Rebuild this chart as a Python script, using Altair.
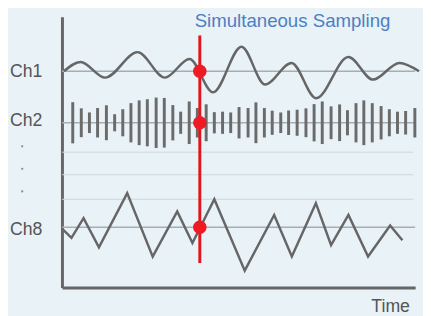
import altair as alt
import pandas as pd

# ---- data (time units along x, signal units along y; 0 = time axis) ----
channels = ["Ch1", "Ch2", "Ch8"]
baselines = [220.5, 168, 61.5]          # signal baseline of each channel
label_levels = [220, 170, 59]
grid_levels = [138, 115, 90]            # empty channel rows (Ch3..Ch7)
ellipsis_levels = [144, 121, 98]

# Ch1: smooth wave (extrema)
ch1_t = [2, 19, 44, 77, 105, 130, 154, 183, 207, 234, 259, 292, 317, 344, 364]
ch1_v = [0, 9.5, -6.5, 19.5, -6.5, 12.5, -21.5, 25, -13.5, 8.5, -27.5, 14.5, -8.5, 8.5, 0]

# Ch2: pulse train (half heights)
ch2_t = [11, 19.7, 28, 36.3, 45.3, 53.7, 62, 70.3, 78.7, 87, 96, 104.3, 113, 121,
         129.7, 138, 147, 155.3, 163.7, 172, 180.5, 189.7, 197.7, 206.3, 214.3, 223,
         231, 239.7, 248.7, 257, 265.3, 274.3, 283, 291, 299.7, 307.7, 316.3, 325.3,
         333.7, 342, 350.3, 359.7]
ch2_h = [21, 14.7, 10.5, 15, 17.8, 8.7, 13.8, 20, 22.8, 24, 25.7, 25.3, 18, 11.3,
         21.7, 15, 18.8, 10.8, 11.3, 10.5, 16, 15, 20.8, 15, 12.3, 10.5,
         12.5, 13.3, 14.7, 19, 21.7, 16.7, 18.7, 12.8, 20, 22.8, 20, 17,
         13.8, 11.3, 12, 15]

# Ch8: triangle wave (vertices)
ch8_t = [0, 9.7, 22, 37.7, 66.5, 92.5, 117.5, 133, 155.3, 186.3, 216.3, 234.3,
         258.8, 274.3, 292, 312, 334.5, 347]
ch8_v = [-1.5, -10.8, 9.2, -20.5, 34.8, -30, 16.2, -16, 28.5, -44.2, 12.5, -29.8,
         24.5, -18.2, 12.5, -29.8, 1.8, -13.2]

sample_t = 140.5
sample_top = 257
sample_bottom = 25

title_text = "Simultaneous Sampling"
title_pos = (235, 266)
time_text = "Time"
time_pos = (335, -25)
label_t = -36.5
ellipsis_t = -40.5

# ---- tables ----
X = alt.Scale(domain=[0, 360], nice=False, zero=False)
Y = alt.Scale(domain=[0, 276], nice=False, zero=False)
FONT = "Liberation Sans"


def xe(f):
    return alt.X(f, scale=X, title=None)


def ye(f):
    return alt.Y(f, scale=Y, title=None)


grid_df = pd.DataFrame({"t0": [0] * len(grid_levels), "t1": [358] * len(grid_levels),
                        "level": grid_levels})
base_df = pd.DataFrame({"t0": [0] * 3, "t1": [360] * 3, "level": baselines})
ch1_df = pd.DataFrame({"t": ch1_t, "y": [baselines[0] + v for v in ch1_v]})
ch2_df = pd.DataFrame({"t": ch2_t,
                       "lo": [baselines[1] - h for h in ch2_h],
                       "hi": [baselines[1] + h for h in ch2_h]})
ch8_df = pd.DataFrame({"t": ch8_t, "y": [baselines[2] + v for v in ch8_v]})
red_df = pd.DataFrame({"t": [sample_t], "top": [sample_top], "bot": [sample_bottom]})
dot_df = pd.DataFrame({"t": [sample_t] * 3, "y": baselines})
lab_df = pd.DataFrame({"t": [label_t] * 3, "y": label_levels, "txt": channels})
ell_df = pd.DataFrame({"t": [ellipsis_t] * 3, "y": ellipsis_levels})
txt_df = pd.DataFrame({"t": [title_pos[0]], "y": [title_pos[1]], "txt": [title_text]})
time_df = pd.DataFrame({"t": [time_pos[0]], "y": [time_pos[1]], "txt": [time_text]})

grid = alt.Chart(grid_df).mark_rule(color="#cdd5d9", strokeWidth=1).encode(
    x=xe("t0:Q"), x2="t1:Q", y=ye("level:Q"))
base = alt.Chart(base_df).mark_rule(color="#a9adaf", strokeWidth=1.5).encode(
    x=xe("t0:Q"), x2="t1:Q", y=ye("level:Q"))
ch1 = alt.Chart(ch1_df).mark_line(interpolate="monotone", color="#666666",
                                  strokeWidth=2.5).encode(x=xe("t:Q"), y=ye("y:Q"))
ch2 = alt.Chart(ch2_df).mark_rule(color="#6b6b6b", strokeWidth=3).encode(
    x=xe("t:Q"), y=ye("lo:Q"), y2="hi:Q")
ch8 = alt.Chart(ch8_df).mark_line(color="#666666", strokeWidth=2.5).encode(
    x=xe("t:Q"), y=ye("y:Q"))
red = alt.Chart(red_df).mark_rule(color="#e0161e", strokeWidth=3).encode(
    x=xe("t:Q"), y=ye("top:Q"), y2="bot:Q")
dots = alt.Chart(dot_df).mark_circle(color="#ee1b24", opacity=1, size=190).encode(
    x=xe("t:Q"), y=ye("y:Q"))
labels = alt.Chart(lab_df).mark_text(font=FONT, fontSize=18, color="#555555",
                                     align="center", baseline="middle").encode(
    x=xe("t:Q"), y=ye("y:Q"), text="txt:N")
ell = alt.Chart(ell_df).mark_circle(color="#8a8a8a", opacity=1, size=5).encode(
    x=xe("t:Q"), y=ye("y:Q"))
title = alt.Chart(txt_df).mark_text(font=FONT, fontSize=19, color="#4d7fc3",
                                    align="center", baseline="alphabetic").encode(
    x=xe("t:Q"), y=ye("y:Q"), text="txt:N")
tlabel = alt.Chart(time_df).mark_text(font=FONT, fontSize=18, color="#555555",
                                      align="center", baseline="alphabetic").encode(
    x=xe("t:Q"), y=ye("y:Q"), text="txt:N")

chart = alt.layer(grid, base, ch1, ch8, ch2, red, dots, labels, ell, title, tlabel).properties(
    width=360, height=276,
    padding={"left": 55, "top": 6, "right": 8, "bottom": 26},
    autosize="none",
    background="#e9f2f6",
).configure_view(stroke=None).configure_axis(
    domain=True, domainColor="#666666", domainWidth=3, ticks=False,
    labels=False, grid=False,
)

chart.save("out.html", embed_options={"renderer": "svg", "actions": False})
